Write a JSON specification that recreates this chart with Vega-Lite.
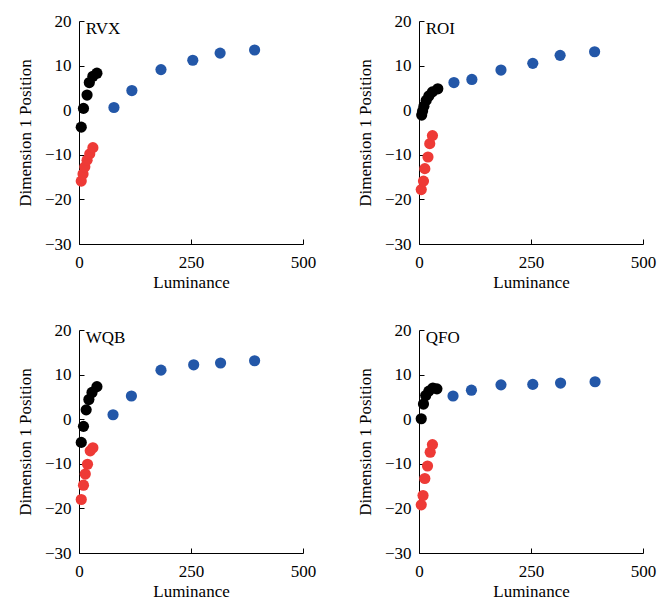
{
  "$schema": "https://vega.github.io/schema/vega-lite/v6.json",
  "background": "white",
  "padding": {"left": 16, "top": 12, "right": 5, "bottom": 0},
  "config": {
    "font": "Liberation Serif",
    "view": {"stroke": null},
    "header": {"labels": false, "title": null, "labelFontSize": 0, "labelPadding": 0, "titlePadding": 0},
    "headerFacet": {"labels": false, "title": null, "labelFontSize": 0, "labelPadding": 0},
    "axis": {
      "grid": false,
      "domainColor": "#000000",
      "domainWidth": 1,
      "tickColor": "#000000",
      "tickSize": -5,
      "labelFlush": false,
      "labelFont": "Liberation Serif",
      "labelFontSize": 17,
      "labelColor": "#000000",
      "titleFont": "Liberation Serif",
      "titleFontSize": 17,
      "titleFontWeight": "normal",
      "titleColor": "#000000"
    }
  },
  "data": {
    "values": [
      {"panel": "RVX", "group": "red", "lum": 5, "pos": -15.9},
      {"panel": "RVX", "group": "red", "lum": 9, "pos": -14.3},
      {"panel": "RVX", "group": "red", "lum": 13, "pos": -12.7},
      {"panel": "RVX", "group": "red", "lum": 18, "pos": -11.2},
      {"panel": "RVX", "group": "red", "lum": 24, "pos": -9.8},
      {"panel": "RVX", "group": "red", "lum": 31, "pos": -8.4},
      {"panel": "RVX", "group": "black", "lum": 5, "pos": -3.8},
      {"panel": "RVX", "group": "black", "lum": 10, "pos": 0.4},
      {"panel": "RVX", "group": "black", "lum": 18, "pos": 3.4},
      {"panel": "RVX", "group": "black", "lum": 23, "pos": 6.2},
      {"panel": "RVX", "group": "black", "lum": 31, "pos": 7.6},
      {"panel": "RVX", "group": "black", "lum": 40, "pos": 8.3},
      {"panel": "RVX", "group": "blue", "lum": 78, "pos": 0.6},
      {"panel": "RVX", "group": "blue", "lum": 118, "pos": 4.4},
      {"panel": "RVX", "group": "blue", "lum": 183, "pos": 9.1},
      {"panel": "RVX", "group": "blue", "lum": 254, "pos": 11.2},
      {"panel": "RVX", "group": "blue", "lum": 315, "pos": 12.8},
      {"panel": "RVX", "group": "blue", "lum": 392, "pos": 13.5},

      {"panel": "ROI", "group": "red", "lum": 5, "pos": -17.8},
      {"panel": "ROI", "group": "red", "lum": 10, "pos": -15.9},
      {"panel": "ROI", "group": "red", "lum": 13, "pos": -13.1},
      {"panel": "ROI", "group": "red", "lum": 20, "pos": -10.5},
      {"panel": "ROI", "group": "red", "lum": 24, "pos": -7.5},
      {"panel": "ROI", "group": "red", "lum": 30, "pos": -5.7},
      {"panel": "ROI", "group": "black", "lum": 6, "pos": -1.1},
      {"panel": "ROI", "group": "black", "lum": 8, "pos": -0.2},
      {"panel": "ROI", "group": "black", "lum": 11, "pos": 0.9},
      {"panel": "ROI", "group": "black", "lum": 16, "pos": 2.2},
      {"panel": "ROI", "group": "black", "lum": 22, "pos": 3.2},
      {"panel": "ROI", "group": "black", "lum": 30, "pos": 4.1},
      {"panel": "ROI", "group": "black", "lum": 42, "pos": 4.8},
      {"panel": "ROI", "group": "blue", "lum": 78, "pos": 6.2},
      {"panel": "ROI", "group": "blue", "lum": 118, "pos": 6.9},
      {"panel": "ROI", "group": "blue", "lum": 183, "pos": 9.0},
      {"panel": "ROI", "group": "blue", "lum": 254, "pos": 10.5},
      {"panel": "ROI", "group": "blue", "lum": 315, "pos": 12.3},
      {"panel": "ROI", "group": "blue", "lum": 392, "pos": 13.1},

      {"panel": "WQB", "group": "red", "lum": 5, "pos": -18.0},
      {"panel": "WQB", "group": "red", "lum": 10, "pos": -14.8},
      {"panel": "WQB", "group": "red", "lum": 14, "pos": -12.3},
      {"panel": "WQB", "group": "red", "lum": 19, "pos": -10.1},
      {"panel": "WQB", "group": "red", "lum": 25, "pos": -7.1},
      {"panel": "WQB", "group": "red", "lum": 31, "pos": -6.4},
      {"panel": "WQB", "group": "black", "lum": 5, "pos": -5.2},
      {"panel": "WQB", "group": "black", "lum": 10, "pos": -1.6},
      {"panel": "WQB", "group": "black", "lum": 16, "pos": 2.1},
      {"panel": "WQB", "group": "black", "lum": 22, "pos": 4.4},
      {"panel": "WQB", "group": "black", "lum": 29, "pos": 6.0},
      {"panel": "WQB", "group": "black", "lum": 40, "pos": 7.3},
      {"panel": "WQB", "group": "blue", "lum": 76, "pos": 1.0},
      {"panel": "WQB", "group": "blue", "lum": 117, "pos": 5.2},
      {"panel": "WQB", "group": "blue", "lum": 183, "pos": 11.0},
      {"panel": "WQB", "group": "blue", "lum": 256, "pos": 12.2},
      {"panel": "WQB", "group": "blue", "lum": 316, "pos": 12.6},
      {"panel": "WQB", "group": "blue", "lum": 392, "pos": 13.1},

      {"panel": "QFO", "group": "red", "lum": 5, "pos": -19.2},
      {"panel": "QFO", "group": "red", "lum": 9, "pos": -17.1},
      {"panel": "QFO", "group": "red", "lum": 13, "pos": -13.3},
      {"panel": "QFO", "group": "red", "lum": 19, "pos": -10.5},
      {"panel": "QFO", "group": "red", "lum": 25, "pos": -7.4},
      {"panel": "QFO", "group": "red", "lum": 30, "pos": -5.7},
      {"panel": "QFO", "group": "black", "lum": 5, "pos": 0.1},
      {"panel": "QFO", "group": "black", "lum": 10, "pos": 3.4},
      {"panel": "QFO", "group": "black", "lum": 15, "pos": 5.3},
      {"panel": "QFO", "group": "black", "lum": 22, "pos": 6.3},
      {"panel": "QFO", "group": "black", "lum": 31, "pos": 7.0},
      {"panel": "QFO", "group": "black", "lum": 40, "pos": 6.8},
      {"panel": "QFO", "group": "blue", "lum": 76, "pos": 5.2},
      {"panel": "QFO", "group": "blue", "lum": 117, "pos": 6.5},
      {"panel": "QFO", "group": "blue", "lum": 183, "pos": 7.7},
      {"panel": "QFO", "group": "blue", "lum": 254, "pos": 7.8},
      {"panel": "QFO", "group": "blue", "lum": 316, "pos": 8.1},
      {"panel": "QFO", "group": "blue", "lum": 393, "pos": 8.4}
    ]
  },
  "facet": {
    "field": "panel",
    "type": "nominal",
    "sort": ["RVX", "ROI", "WQB", "QFO"],
    "title": null,
    "header": {"labels": false, "title": null, "labelExpr": "''"}
  },
  "columns": 2,
  "spacing": {"row": 31, "column": 40},
  "resolve": {"axis": {"x": "independent", "y": "independent"}},
  "spec": {
    "width": 224,
    "height": 223,
    "layer": [
      {
        "mark": {"type": "circle", "size": 125, "opacity": 1},
        "encoding": {
          "x": {
            "field": "lum",
            "type": "quantitative",
            "title": "Luminance",
            "scale": {"domain": [0, 500], "nice": false},
            "axis": {"values": [0, 250, 500], "labelPadding": 15, "titlePadding": 4}
          },
          "y": {
            "field": "pos",
            "type": "quantitative",
            "title": "Dimension 1 Position",
            "scale": {"domain": [-30, 20], "nice": false},
            "axis": {"values": [-30, -20, -10, 0, 10, 20], "labelPadding": 13, "titlePadding": 10}
          },
          "color": {
            "field": "group",
            "type": "nominal",
            "scale": {
              "domain": ["red", "black", "blue"],
              "range": ["#ee3a36", "#000000", "#2357a8"]
            },
            "legend": null
          }
        }
      },
      {
        "transform": [
          {"aggregate": [{"op": "count", "as": "n"}], "groupby": ["panel"]}
        ],
        "mark": {
          "type": "text",
          "align": "left",
          "baseline": "middle",
          "font": "Liberation Serif",
          "fontSize": 17,
          "color": "#000000"
        },
        "encoding": {
          "x": {"datum": 15},
          "y": {"datum": 18.2},
          "text": {"field": "panel", "type": "nominal"}
        }
      }
    ]
  }
}
